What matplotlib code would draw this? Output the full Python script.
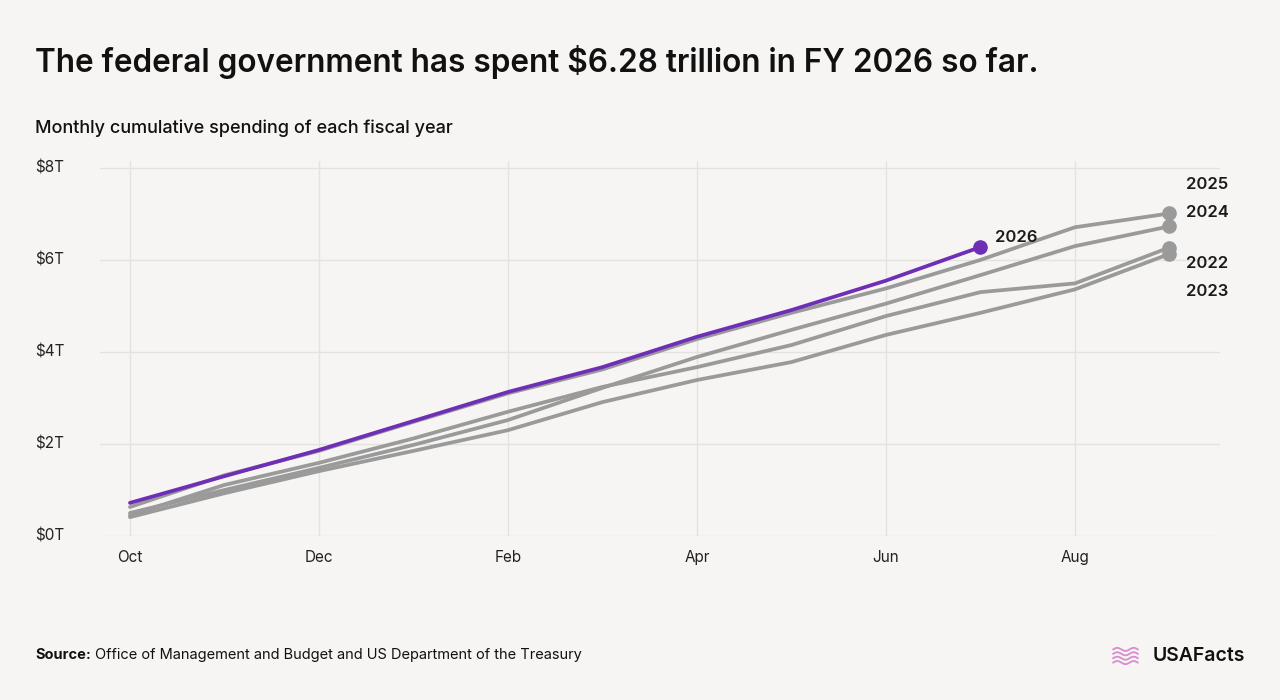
import numpy as np
import matplotlib.pyplot as plt
from matplotlib.transforms import blended_transform_factory

plt.rcParams['font.family'] = ['Inter', 'DejaVu Sans']

months = ["Oct", "Nov", "Dec", "Jan", "Feb", "Mar", "Apr", "May", "Jun", "Jul", "Aug", "Sep"]
tick_months = ["Oct", "Dec", "Feb", "Apr", "Jun", "Aug"]
yticks = [0, 2, 4, 6, 8]
ytick_labels = ["$0T", "$2T", "$4T", "$6T", "$8T"]

# cumulative outlays, trillions of dollars
fy2022 = [0.45, 1.11, 1.59, 2.12, 2.70, 3.24, 3.67, 4.15, 4.78, 5.30, 5.49, 6.27]
fy2023 = [0.41, 0.93, 1.41, 1.85, 2.30, 2.91, 3.39, 3.78, 4.37, 4.85, 5.36, 6.13]
fy2024 = [0.50, 1.00, 1.48, 1.98, 2.52, 3.22, 3.89, 4.48, 5.05, 5.67, 6.30, 6.73]
fy2025 = [0.63, 1.32, 1.85, 2.48, 3.10, 3.62, 4.28, 4.85, 5.38, 6.00, 6.71, 7.01]
fy2026 = [0.72, 1.30, 1.87, 2.50, 3.13, 3.67, 4.33, 4.91, 5.55, 6.28]

bg = "#f6f5f3"
grey = "#9a9a9a"
purple = "#6e2fb6"
grid = "#e4e2df"

fig = plt.figure(figsize=(12.8, 7), dpi=100, facecolor=bg)
ax = fig.add_axes([100 / 1280, 1 - 536 / 700, 1120 / 1280, 375 / 700])
ax.set_facecolor(bg)

x_all = np.arange(len(months))

# grey years, with label offsets in pixels (dx, dy)
grey_years = [("2022", fy2022, (17, -16)), ("2023", fy2023, (17, -38)),
              ("2024", fy2024, (17, 14)), ("2025", fy2025, (17, 29))]
for name, vals, off in grey_years:
    xs = x_all[:len(vals)]
    ax.plot(xs, vals, color=grey, lw=2.7, solid_capstyle="round", zorder=3)
    ax.plot(xs[-1], vals[-1], "o", color=grey, ms=9.5, zorder=4, clip_on=False)
    ax.annotate(name, (xs[-1], vals[-1]), xytext=off, textcoords="offset pixels",
                ha="left", va="center", fontsize=12, fontweight="semibold",
                color="#1a1a1a", annotation_clip=False)

xs = x_all[:len(fy2026)]
ax.plot(xs, fy2026, color=purple, lw=2.7, solid_capstyle="round", zorder=5)
ax.plot(xs[-1], fy2026[-1], "o", color=purple, ms=9.5, zorder=6, clip_on=False)
ax.annotate("2026", (xs[-1], fy2026[-1]), xytext=(15, 10), textcoords="offset pixels",
            ha="left", va="center", fontsize=12, fontweight="semibold",
            color="#1a1a1a", annotation_clip=False)

ax.set_xlim(-0.317, 11.535)
ax.set_ylim(0, 8.15)
tick_pos = [months.index(m) for m in tick_months]
ax.set_xticks(tick_pos)
ax.set_xticklabels(tick_months, fontsize=11, color="#222222")
ax.tick_params(axis="x", length=0, pad=10)
ax.set_yticks([])
for t in tick_pos:
    ax.axvline(t, color=grid, lw=1, zorder=1)
for v in yticks:
    ax.axhline(v, color=grid, lw=1, zorder=1)
for s in ax.spines.values():
    s.set_visible(False)

trans = blended_transform_factory(fig.transFigure, ax.transData)
for v, lab in zip(yticks, ytick_labels):
    ax.text(35 / 1280, v, lab, transform=trans, ha="left", va="center",
            fontsize=11, color="#222222")

fig.text(35 / 1280, 1 - 62 / 700, "The federal government has spent $6.28 trillion in FY 2026 so far.",
         ha="left", va="center", fontsize=22.7, fontweight="semibold", color="#111111")
fig.text(35 / 1280, 1 - 128 / 700, "Monthly cumulative spending of each fiscal year",
         ha="left", va="center", fontsize=13, fontweight="medium", color="#111111")

src = fig.text(35 / 1280, 1 - 655 / 700, "Source:", ha="left", va="center",
               fontsize=10.5, fontweight="bold", color="#111111")
fig.canvas.draw()
bb = src.get_window_extent()
fig.text((bb.x1 + 4) / 1280, 1 - 655 / 700,
         "Office of Management and Budget and US Department of the Treasury",
         ha="left", va="center", fontsize=10.5, color="#111111")

# logo
fig.text(1245 / 1280, 1 - 656 / 700, "USAFacts", ha="right", va="center",
         fontsize=14, fontweight="semibold", color="#111111")
lax = fig.add_axes([1112 / 1280, 1 - 667 / 700, 27 / 1280, 22 / 700])
lax.set_facecolor("none")
lax.axis("off")
t = np.linspace(0, 1, 40)
for k in range(4):
    lax.plot(t, 0.8 - 0.2 * k + 0.07 * np.sin(t * 2 * np.pi * 1.5), color="#d98bd0", lw=1.3)
lax.set_xlim(-0.05, 1.05)
lax.set_ylim(0, 1)

fig.savefig("out.png", dpi=100, facecolor=bg)
